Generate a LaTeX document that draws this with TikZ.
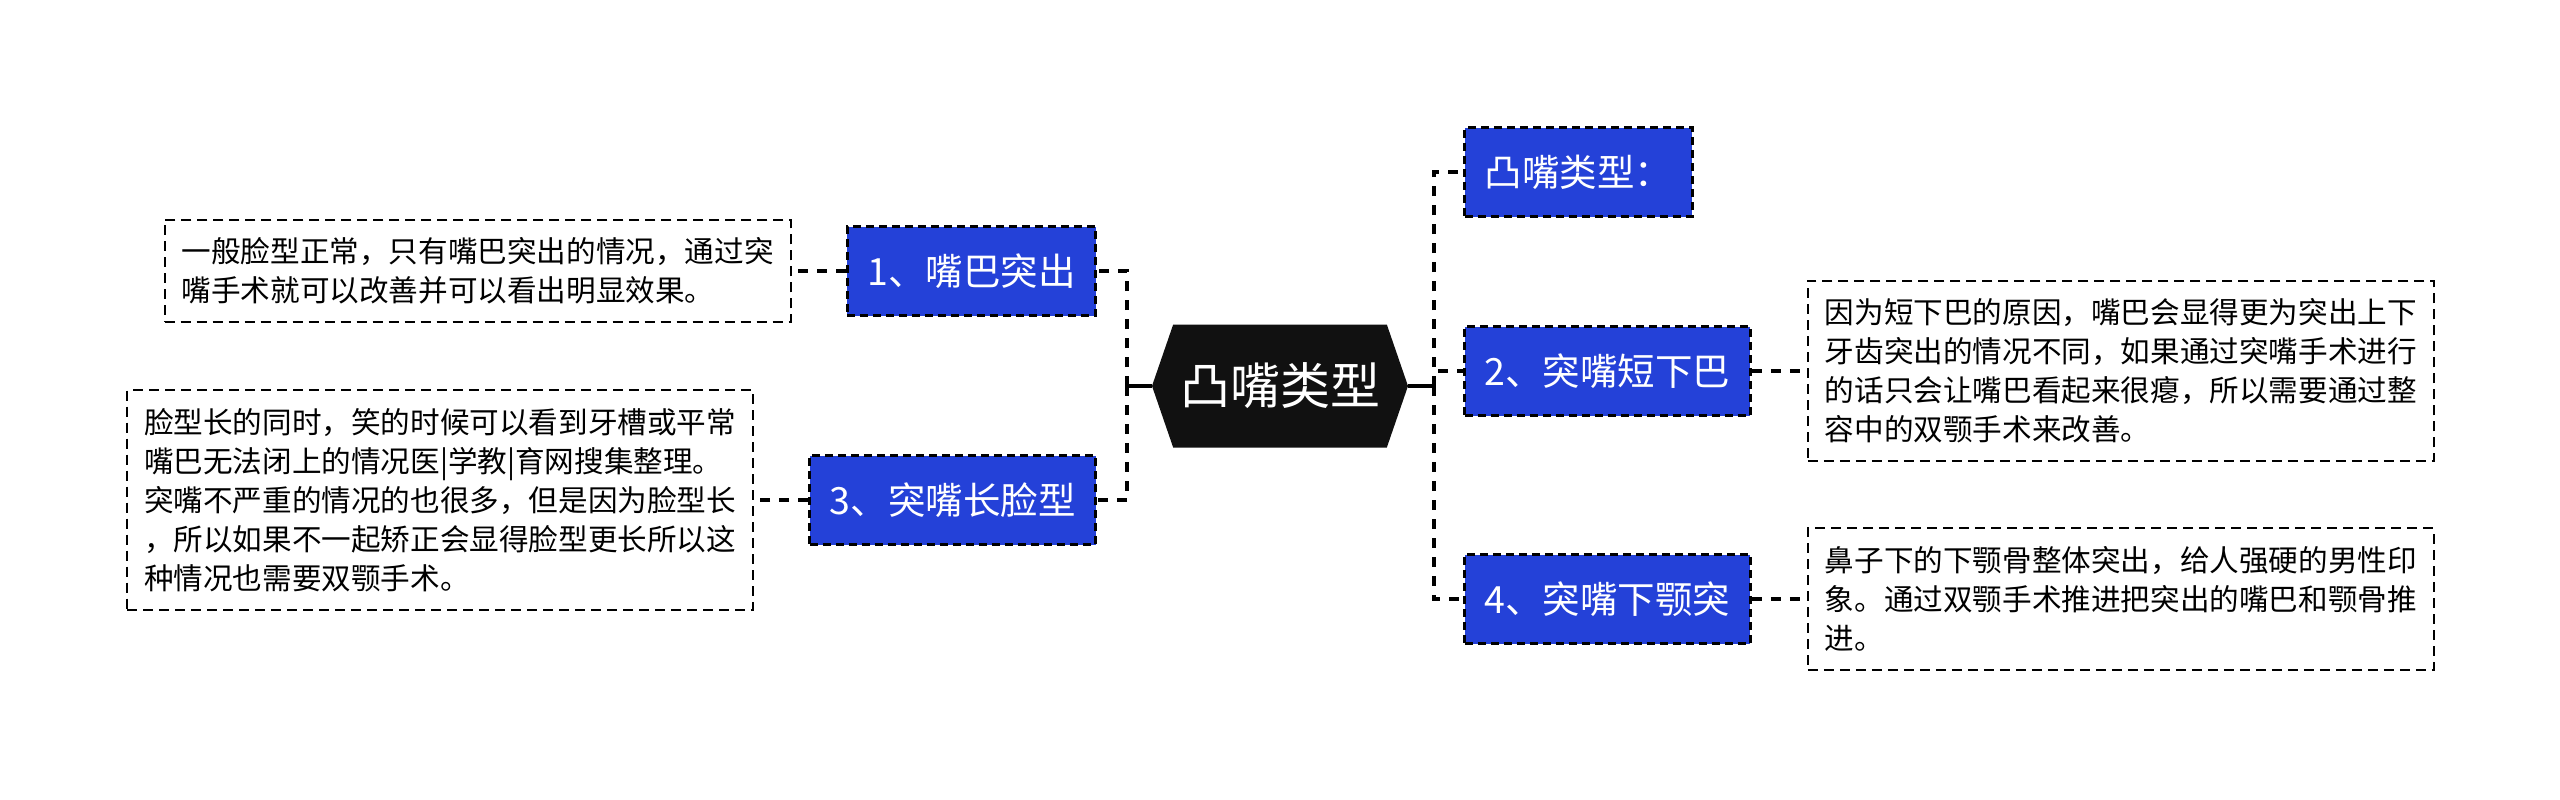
\documentclass[tikz,border=0pt]{standalone}
\usepackage{fontspec}
\setmainfont{Noto Sans CJK SC}
\usetikzlibrary{positioning, shapes.symbols}
\definecolor{topicblue}{HTML}{2441D8}
\definecolor{rootblack}{HTML}{111111}

\begin{document}
\begin{tikzpicture}[x=0.5pt, y=-0.5pt,
    root/.style={signal, signal to=west and east, signal pointer angle=142, fill=rootblack, text=white, font=\fontsize{25}{30}\selectfont, minimum width=128pt, minimum height=61.5pt, inner sep=0pt},
    topic/.style={rectangle, fill=topicblue, draw=black, line width=1.5pt, dash pattern=on 4pt off 2.5pt, text=white, font=\fontsize{18.75}{22}\selectfont, minimum height=44.5pt, inner xsep=10pt},
    desc/.style={rectangle, draw=black, line width=1pt, dash pattern=on 5pt off 3pt, align=left, font=\fontsize{14.8}{19.5}\selectfont, inner xsep=8.5pt, inner ysep=9pt},
    link/.style={draw=black, line width=1.8pt, dash pattern=on 5pt off 4.5pt},
    stem/.style={draw=black, line width=2pt}]
    \useasboundingbox (0,0) rectangle (2560,799);
    % Tema central
    \node[root] (root) at (1280,386) {凸嘴类型};
    \coordinate (lt) at (1127,386);
    \coordinate (rt) at (1434,386);
    % Branques de la dreta
    \node[topic, anchor=west] (b0) at (1463,172) {凸嘴类型：};
    \node[topic, anchor=west] (b2) at (1463,371) {2、突嘴短下巴};
    \node[topic, anchor=west] (b4) at (1463,599) {4、突嘴下颚突};
    % Branques de l'esquerra
    \node[topic, anchor=east] (b1) at (1097,271) {1、嘴巴突出};
    \node[topic, anchor=east] (b3) at (1097,500) {3、突嘴长脸型};
    % Descripcions
    \node[desc, right=27.5pt of b2] (d2) {因为短下巴的原因，嘴巴会显得更为突出上下\\牙齿突出的情况不同，如果通过突嘴手术进行\\的话只会让嘴巴看起来很瘪，所以需要通过整\\容中的双颚手术来改善。};
    \node[desc, right=27.5pt of b4] (d4) {鼻子下的下颚骨整体突出，给人强硬的男性印\\象。通过双颚手术推进把突出的嘴巴和颚骨推\\进。};
    \node[desc, left=27pt of b1] (d1) {一般脸型正常，只有嘴巴突出的情况，通过突\\嘴手术就可以改善并可以看出明显效果。};
    \node[desc, left=27pt of b3] (d3) {脸型长的同时，笑的时候可以看到牙槽或平常\\嘴巴无法闭上的情况医|学教|育网搜集整理。\\突嘴不严重的情况的也很多，但是因为脸型长\\，所以如果不一起矫正会显得脸型更长所以这\\种情况也需要双颚手术。};
    % Connexions
    \draw[stem] (root.west) -- (lt);
    \draw[stem] (root.east) -- (rt);
    \draw[link] (rt) |- (b0.west);
    \draw[link] (rt) |- (b2.west);
    \draw[link] (rt) |- (b4.west);
    \draw[link] (lt) |- (b1.east);
    \draw[link] (lt) |- (b3.east);
    \draw[link] (b2) -- (d2);
    \draw[link] (b4) -- (d4);
    \draw[link] (b1) -- (d1);
    \draw[link] (b3) -- (d3);
\end{tikzpicture}
\end{document}
